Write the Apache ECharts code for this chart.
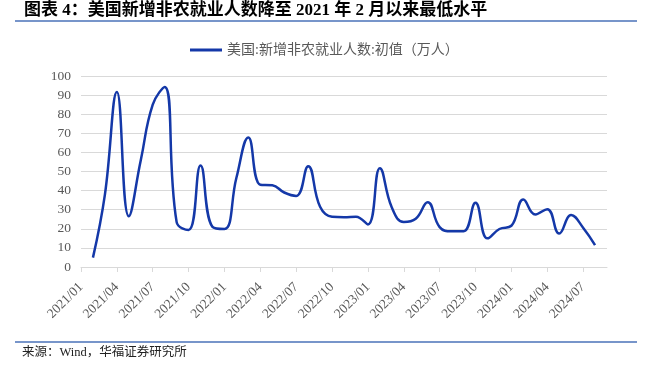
<!DOCTYPE html>
<html>
<head>
<meta charset="utf-8">
<script src="https://cdn.jsdelivr.net/npm/echarts@6/dist/echarts.min.js"></script>
<style>html,body{margin:0;padding:0;background:#fff;}#c{width:649px;height:374px;}</style>
</head>
<body>
<div id="c"></div>
<script>
// Months of the series (2021/01 – 2024/07)
var months = ['2021/01','2021/02','2021/03','2021/04','2021/05','2021/06','2021/07','2021/08','2021/09','2021/10','2021/11','2021/12',
  '2022/01','2022/02','2022/03','2022/04','2022/05','2022/06','2022/07','2022/08','2022/09','2022/10','2022/11','2022/12',
  '2023/01','2023/02','2023/03','2023/04','2023/05','2023/06','2023/07','2023/08','2023/09','2023/10','2023/11','2023/12',
  '2024/01','2024/02','2024/03','2024/04','2024/05','2024/06','2024/07'];
// 美国:新增非农就业人数:初值（万人）
var payrolls = [4.9,37.9,91.6,26.6,55.9,85.0,94.3,23.5,19.4,53.1,21.0,19.9,
  46.7,67.8,43.1,42.8,39.0,37.2,52.8,31.5,26.3,26.1,26.3,22.3,
  51.7,31.1,23.6,25.3,33.9,20.9,18.7,18.7,33.6,15.0,19.9,21.6,
  35.3,27.5,30.3,17.5,27.2,20.6,11.4];
// Tick labels shown on the x axis
var tickLabels = ['2021/01','2021/04','2021/07','2021/10','2022/01','2022/04','2022/07','2022/10',
  '2023/01','2023/04','2023/07','2023/10','2024/01','2024/04','2024/07'];
var yTicks = [0,10,20,30,40,50,60,70,80,90,100];
var seriesName = '美国:新增非农就业人数:初值（万人）';
var titleText = '图表 4：美国新增非农就业人数降至 2021 年 2 月以来最低水平';
var sourceText = '来源：Wind，华福证券研究所';

// axis has one empty slot before and after the data
var cats = [''].concat(months).concat(['']);
var vals = [null].concat(payrolls).concat([null]);

var chart = echarts.init(document.getElementById('c'), null, {renderer:'canvas'});
var serif = '"Liberation Serif", "Noto Sans CJK SC", serif';
chart.setOption({
  animation: false,
  backgroundColor: '#ffffff',
  graphic: [
    {type:'text', left: 24, top: 2, style:{text: titleText, font: 'bold 17px "Liberation Serif", "Noto Sans CJK SC"', fill:'#000'}},
    {type:'line', shape:{x1:15, y1:21, x2:637, y2:21}, style:{stroke:'#4a72b8', lineWidth:1.5}},
    {type:'line', shape:{x1:15, y1:342, x2:637, y2:342}, style:{stroke:'#4a72b8', lineWidth:1.5}},
    {type:'text', left: 22, top: 346, style:{text: sourceText, font: '12.5px "Liberation Serif", "Noto Sans CJK SC"', fill:'#222'}}
  ],
  legend: {
    left: 185, top: 38,
    icon: 'rect', itemWidth: 32, itemHeight: 3, itemGap: 10,
    textStyle: {color:'#595959', fontSize: 14, fontFamily: serif},
    data: [seriesName]
  },
  grid: {left: 81, right: 42, top: 76, bottom: 107, containLabel: false},
  xAxis: {
    type: 'category', data: cats, boundaryGap: false,
    axisLine: {lineStyle: {color:'#d9d9d9', width:1}},
    axisTick: {show: true, interval: 2, length: 5, lineStyle:{color:'#d9d9d9'}},
    axisLabel: {interval: 2, rotate: 45, margin: 18, color:'#595959', fontSize: 13.5, fontFamily: serif,
      formatter: function(v, i){ return i % 3 === 0 ? (tickLabels[i/3] || '') : ''; }},
    splitLine: {show:false}
  },
  yAxis: {
    type: 'value', min: yTicks[0], max: yTicks[yTicks.length-1], interval: 10,
    axisLine: {show:false}, axisTick: {show:false},
    axisLabel: {margin: 10, color:'#595959', fontSize: 13.5, fontFamily: serif},
    splitLine: {lineStyle: {color:'#d9d9d9', width: 1.2}}
  },
  series: [{
    name: seriesName, type: 'line', data: vals, smooth: 0.45, showSymbol: false, symbol: 'none',
    connectNulls: false,
    lineStyle: {color:'#1438a8', width: 2.5}, itemStyle: {color:'#1438a8'}
  }]
});
</script>
</body>
</html>
